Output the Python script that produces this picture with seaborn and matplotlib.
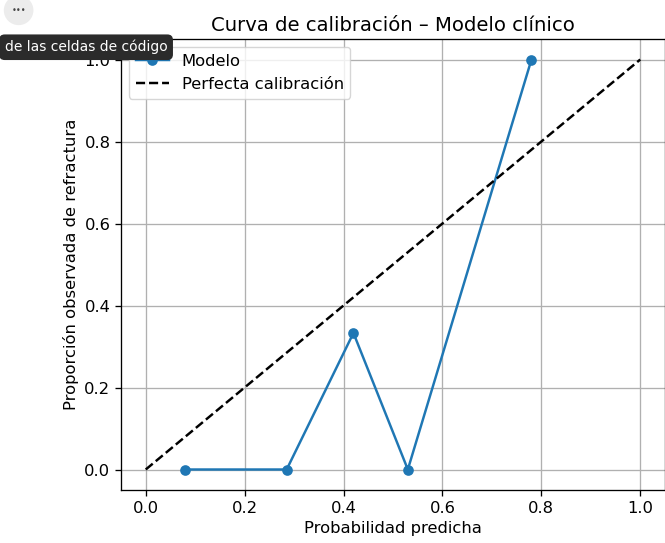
import matplotlib
matplotlib.use("Agg")
import matplotlib.pyplot as plt
import seaborn as sns
import pandas as pd

# valores
prob_media = [0.08, 0.285, 0.42, 0.53, 0.78]
frac_pos = [0.0, 0.0, 0.333, 0.0, 1.0]
diag = [0.0, 1.0]

df = pd.DataFrame({"pred": prob_media, "obs": frac_pos})

k = 1.18  # la captura está algo ampliada
plt.rcParams.update({
    "font.size": 10 * k,
    "axes.linewidth": 0.8 * k,
    "grid.linewidth": 0.8 * k,
    "xtick.major.size": 3.5 * k,
    "ytick.major.size": 3.5 * k,
    "xtick.major.width": 0.8 * k,
    "ytick.major.width": 0.8 * k,
})

fig = plt.figure(figsize=(6.65, 5.43), dpi=100)
ax = fig.add_axes([121 / 665, 53 / 543, 544 / 665, 451 / 543])

sns.lineplot(data=df, x="pred", y="obs", marker="o", markersize=6.5 * k,
             markeredgewidth=0, linewidth=1.5 * k, color="#1f77b4",
             label="Modelo", ax=ax)
ax.plot(diag, diag, "k--", linewidth=1.5 * k, label="Perfecta calibración")

ax.set_xlim(-0.05, 1.05)
ax.set_ylim(-0.05, 1.05)
ax.set_xticks([0.0, 0.2, 0.4, 0.6, 0.8, 1.0])
ax.set_yticks([0.0, 0.2, 0.4, 0.6, 0.8, 1.0])
ax.set_title("Curva de calibración – Modelo clínico", fontsize=12 * k)
ax.set_xlabel("Probabilidad predicha")
ax.set_ylabel("Proporción observada de refractura")
ax.legend(loc="upper left")
ax.grid(True)

# restos de la interfaz del cuaderno en la captura
fig.text(0.007, 0.913, "de las celdas de código", color="white", fontsize=10,
         va="center", ha="left",
         bbox=dict(boxstyle="round,pad=0.4", fc="#2b2b2b", ec="none"))
fig.text(0.028, 0.981, "•••", color="#444444", fontsize=6, ha="center", va="center",
         bbox=dict(boxstyle="circle,pad=0.9", fc="#ececec", ec="none"))

fig.savefig("out.png", dpi=100)
